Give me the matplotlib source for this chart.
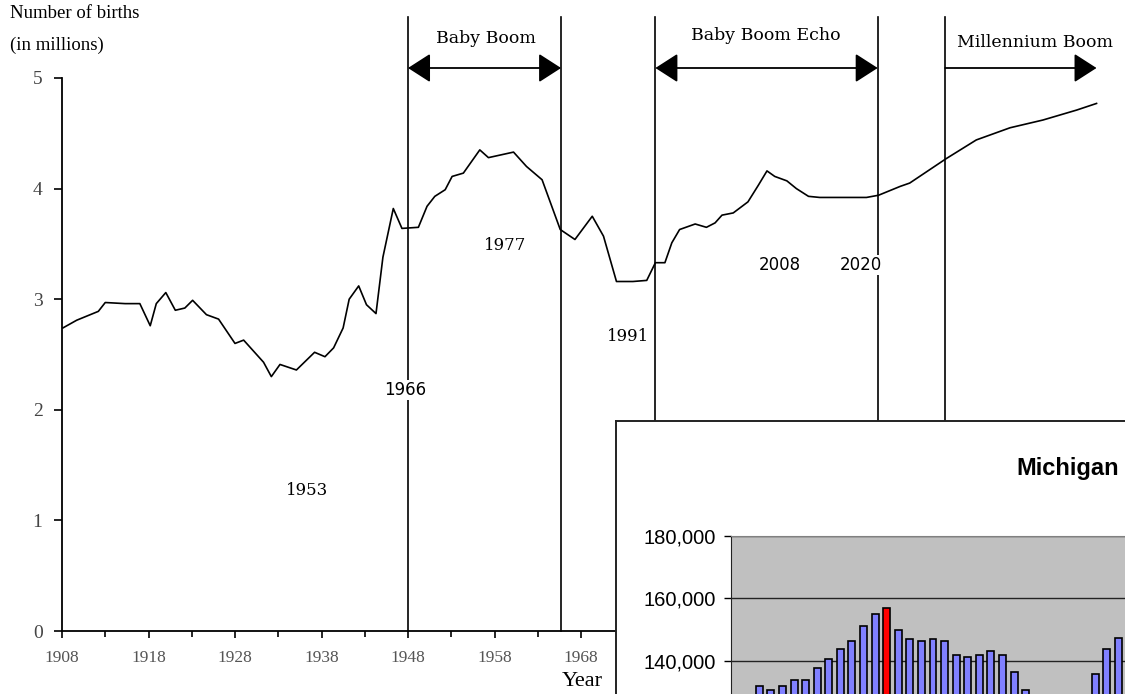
import numpy as np
import matplotlib
matplotlib.use("Agg")
import matplotlib.pyplot as plt

# US births (millions)
years = [1908.1, 1909.7, 1912.2, 1913.0, 1915.3, 1917.0, 1918.2, 1918.9, 1920.0,
         1921.1, 1922.2, 1923.1, 1924.7, 1926.1, 1928.0, 1929.0, 1931.3, 1932.2,
         1933.2, 1935.1, 1937.2, 1938.4, 1939.4, 1940.5, 1941.2, 1942.3, 1943.2,
         1944.3, 1945.1, 1946.3, 1947.3, 1949.2, 1950.2, 1951.1, 1952.3, 1953.1,
         1954.4, 1956.3, 1957.3, 1960.2, 1961.7, 1963.5, 1965.6, 1967.3, 1969.3,
         1970.6, 1972.1, 1974.0, 1975.6, 1976.6, 1977.7, 1978.5, 1979.4, 1981.2,
         1982.5, 1983.5, 1984.3, 1985.6, 1987.3, 1988.5, 1989.5, 1990.4, 1991.8,
         1992.9, 1994.3, 1995.6, 2001.0, 2002.4, 2004.9, 2006.0, 2010.2, 2013.7,
         2017.6, 2021.4, 2025.3, 2027.6]
births = [2.74, 2.81, 2.89, 2.97, 2.96, 2.96, 2.76, 2.96, 3.06,
          2.90, 2.92, 2.99, 2.86, 2.82, 2.60, 2.63, 2.43, 2.30,
          2.41, 2.36, 2.52, 2.48, 2.56, 2.74, 3.00, 3.12, 2.95,
          2.87, 3.38, 3.82, 3.64, 3.65, 3.84, 3.93, 3.99, 4.11,
          4.14, 4.35, 4.28, 4.33, 4.20, 4.08, 3.63, 3.54, 3.75,
          3.57, 3.16, 3.16, 3.17, 3.33, 3.33, 3.51, 3.63, 3.68,
          3.65, 3.69, 3.76, 3.78, 3.88, 4.03, 4.16, 4.11, 4.07,
          4.00, 3.93, 3.92, 3.92, 3.94, 4.02, 4.05, 4.27, 4.44,
          4.55, 4.62, 4.71, 4.77]

# period boundaries and labels
bounds = [1948.0, 1965.7, 1976.6, 2002.3, 2010.1]
periods = ["Baby Boom", "Baby Boom Echo", "Millennium Boom"]
period_x = [1957.0, 1989.4, 2011.5]
period_y = [5.36, 5.38, 5.32]
period_ha = ["center", "center", "left"]
mill_end = 2027.6

marks = ["1953", "1966", "1977", "1991", "2008", "2020"]
mark_x = [1936.3, 1947.7, 1959.2, 1973.4, 1991.0, 2000.3]
mark_y = [1.27, 2.18, 3.49, 2.66, 3.31, 3.31]
mark_font = ["DejaVu Serif", "DejaVu Sans", "DejaVu Serif",
             "DejaVu Serif", "DejaVu Sans", "DejaVu Sans"]

# Michigan inset bars (births), only the visible part
mi_births = [132000, 130700, 132000, 133900, 133900, 137600, 140600, 143800,
             146400, 151300, 155000, 156800, 149900, 146900, 146400, 146900,
             146400, 141900, 141400, 141900, 143200, 141900, 136400, 130700,
             126000, 123000, 121000, 122000, 125000, 135700, 143800, 147500]
mi_peak = 11
mi_ticks = [140000, 160000, 180000]

W, H = 1125, 694
fig = plt.figure(figsize=(W / 100, H / 100), dpi=100)
fig.patch.set_facecolor("white")

def fx(px):
    return px / W

def fy(py):
    return 1 - py / H

ax = fig.add_axes([fx(62), fy(631), fx(1125) - fx(62), fy(78) - fy(631)])
ax.plot(years, births, color="black", lw=1.2)
ax.set_xlim(1908, 1908 + (1125 - 62) / 8.65)
ax.set_ylim(0, 5)
for s in ["top", "right"]:
    ax.spines[s].set_visible(False)
for s in ["left", "bottom"]:
    ax.spines[s].set_linewidth(1.3)
ax.set_yticks(range(6))
ax.set_xticks(np.arange(1908, 1970, 10))
ax.set_xticks(np.arange(1913, 1975, 10), minor=True)
ax.tick_params(axis="y", length=6, width=1.2, pad=8, labelsize=14,
               labelcolor="#444444")
ax.tick_params(axis="x", which="major", length=5, width=1.2, pad=9,
               labelsize=12.5, labelcolor="#555555")
ax.tick_params(axis="x", which="minor", length=4, width=1.2)
for lab in ax.get_xticklabels() + ax.get_yticklabels():
    lab.set_fontfamily("Liberation Serif")

ytop = (631 - 17) / 110.6
for b in bounds:
    ax.plot([b, b], [0, ytop], color="black", lw=1.2, clip_on=False, zorder=1)

arr_y = (631 - 68) / 110.6
style = "<|-|>,head_length=0.7,head_width=0.45"
for (a, b) in [(bounds[0], bounds[1]), (bounds[2], bounds[3])]:
    ax.annotate("", xy=(b, arr_y), xytext=(a, arr_y), annotation_clip=False,
                arrowprops=dict(arrowstyle=style, color="black", lw=1.3,
                                shrinkA=0, shrinkB=0, mutation_scale=20))
ax.annotate("", xy=(mill_end, arr_y), xytext=(bounds[4], arr_y),
            annotation_clip=False,
            arrowprops=dict(arrowstyle="-|>,head_length=0.7,head_width=0.45",
                            color="black", lw=1.3, shrinkA=0, shrinkB=0,
                            mutation_scale=20))
for name, x, y, ha in zip(periods, period_x, period_y, period_ha):
    ax.text(x, y, name, ha=ha, va="center", fontsize=12.5,
            family="DejaVu Serif", clip_on=False)

for t, x, y, f in zip(marks, mark_x, mark_y, mark_font):
    ax.text(x, y, t, ha="center", va="center", fontsize=12, family=f,
            zorder=3, bbox=dict(facecolor="white", edgecolor="none", pad=1))

fig.text(fx(10), fy(13), "Number of births", fontsize=13.5,
         family="Liberation Serif", va="center", ha="left")
fig.text(fx(10), fy(45), "(in millions)", fontsize=13.5,
         family="Liberation Serif", va="center", ha="left")
fig.text(fx(582), fy(681), "Year", fontsize=16, family="Liberation Serif",
         va="center", ha="center")

# inset frame
box = fig.add_axes([fx(616), -0.5, 0.9, fy(421) + 0.5])
box.set_zorder(5)
box.set_xticks([])
box.set_yticks([])
for s in box.spines.values():
    s.set_linewidth(1.4)
    s.set_color("#222222")
box.text(fx(1016), fy(468), "Michigan", transform=fig.transFigure,
         fontsize=17, fontweight="bold", family="Liberation Sans",
         ha="left", va="center")

# inset bars
px_per = 62.5 / 20000
bot_val = 100000
ax2_bottom_px = 536 + (180000 - bot_val) * px_per
ax2 = fig.add_axes([fx(731), fy(ax2_bottom_px), fx(1400) - fx(731),
                    fy(536) - fy(ax2_bottom_px)])
ax2.set_zorder(6)
ax2.set_facecolor("#C0C0C0")
sp = 11.58
ax2.set_xlim(-(759.3 - 731) / sp, (1400 - 759.3) / sp)
ax2.set_ylim(bot_val, 180000)
cols = ["#8080FF"] * len(mi_births)
cols[mi_peak] = "#FF0000"
ax2.bar(np.arange(len(mi_births)), mi_births, width=0.6, color=cols,
        edgecolor="black", linewidth=1.2, zorder=3)
ax2.set_yticks(mi_ticks)
ax2.set_yticklabels([f"{v:,}" for v in mi_ticks])
ax2.grid(axis="y", color="#222222", lw=1.0, zorder=1)
ax2.set_xticks([])
ax2.tick_params(axis="y", length=5, width=1.0, pad=6, labelsize=14.5)
for lab in ax2.get_yticklabels():
    lab.set_fontfamily("Liberation Sans")
ax2.spines["top"].set_color("#808080")
ax2.spines["right"].set_visible(False)
ax2.spines["left"].set_color("#222222")

fig.savefig("out.png", dpi=100)
